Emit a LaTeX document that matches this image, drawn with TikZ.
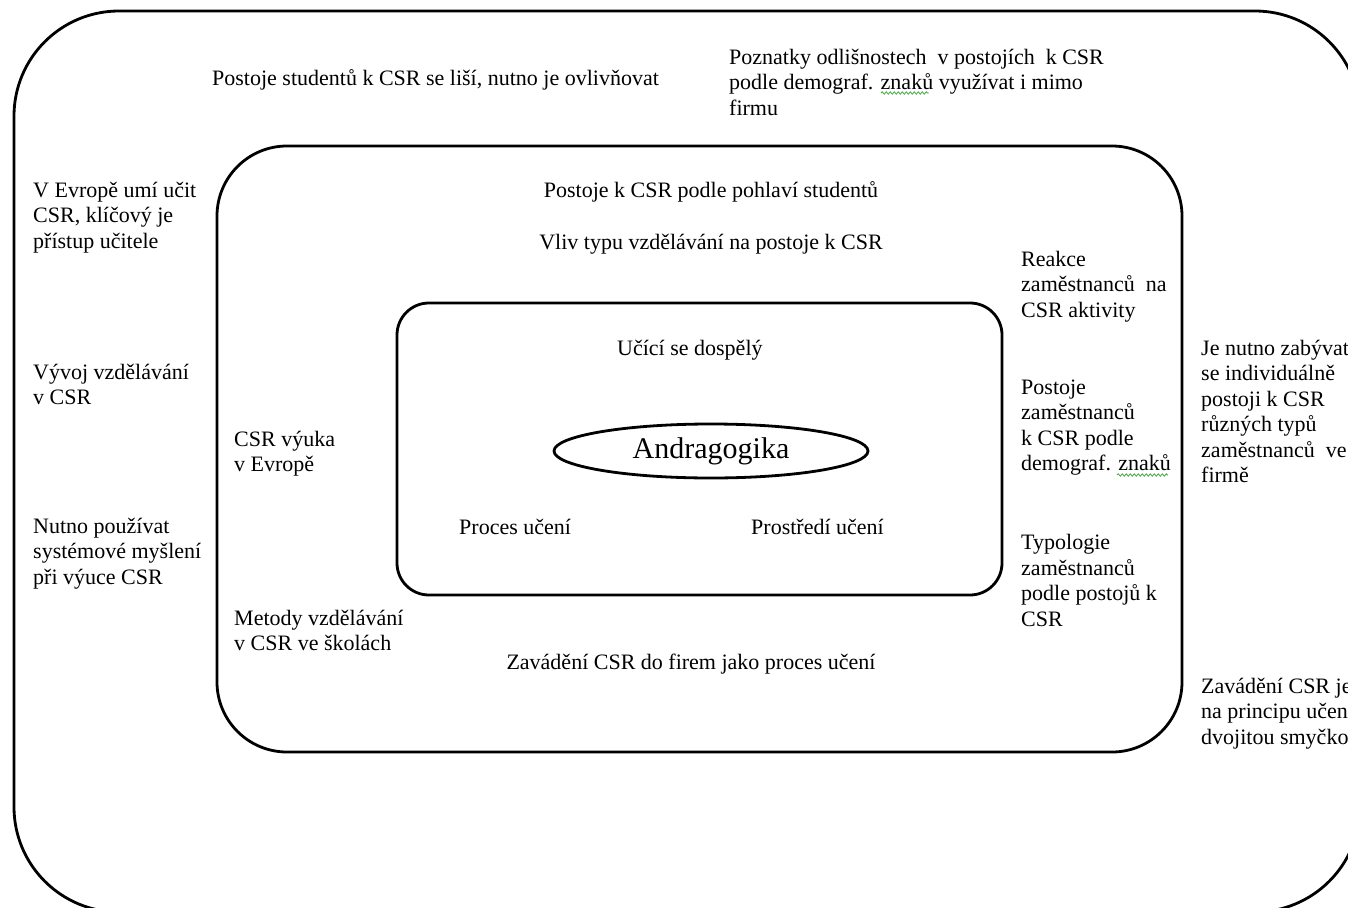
\documentclass[tikz,border=0pt]{standalone}
\usepackage{fontspec}
\setmainfont{Liberation Serif}
\usetikzlibrary{shapes.geometric,decorations.pathmorphing}
\definecolor{squiggreen}{RGB}{70,170,70}
\tikzset{
  frame/.style={draw=black, line width=2.8pt, rectangle, inner sep=0pt},
  % multi-line labels sit on the baseline of their last line
  lbl/.style={inner sep=0pt, anchor=base west, align=left, font=\fontsize{22}{25.5}\selectfont},
  clbl/.style={inner sep=0pt, anchor=base, font=\fontsize{22}{25.5}\selectfont},
  % green wavy underline, as a spell checker marks a word
  squiggle/.style={draw=squiggreen, line width=0.8pt, decorate,
                   decoration={snake, amplitude=1.2pt, segment length=4pt}},
}
\begin{document}
\begin{tikzpicture}[x=1pt,y=-1pt]
\useasboundingbox (0,0) rectangle (1348,907);
\clip (0,0) rectangle (1348,907);

% three nested frames and the central ellipse
\node[frame, rounded corners=105pt, minimum width=1346pt, minimum height=901pt] (outer) at (687,461.5) {};
\node[frame, rounded corners=70pt, minimum width=965pt, minimum height=606pt] (middle) at (699.5,449) {};
\node[frame, rounded corners=32pt, minimum width=605pt, minimum height=292pt] (inner) at (699.5,449) {};
\node[draw=black, line width=2.8pt, ellipse, inner sep=0pt, minimum width=314pt, minimum height=54pt,
      font=\fontsize{30}{34}\selectfont] (core) at (711,451) {Andragogika};

% outer ring
\node[lbl] (o1) at (212,85) {Postoje studentů k CSR se liší, nutno je ovlivňovat};
\node[lbl] (o2) at (729,115) {Poznatky odlišnostech\ \ v postojích\ \ k CSR\\podle demograf. znaků využívat i mimo\\firmu};
\node[lbl] (o3) at (33,248) {V Evropě umí učit\\CSR, klíčový je\\přístup učitele};
\node[lbl] (o4) at (33,404.5) {Vývoj vzdělávání\\v CSR};
\node[lbl] (o5) at (33,584) {Nutno používat\\systémové myšlení\\při výuce CSR};
\node[lbl] (o6) at (1201,482.5) {Je nutno zabývat\\se individuálně\\postoji k CSR\\různých typů\\zaměstnanců\ \ ve\\firmě};
\node[lbl] (o7) at (1201,744) {Zavádění CSR je\\na principu učení\\dvojitou smyčkou};

% middle ring
\node[clbl] (m1) at (711,197) {Postoje k CSR podle pohlaví studentů};
\node[clbl] (m2) at (711,249) {Vliv typu vzdělávání na postoje k CSR};
\node[lbl] (m3) at (1021,317) {Reakce\\zaměstnanců\ \ na\\CSR aktivity};
\node[lbl] (m4) at (1021,470.5) {Postoje\\zaměstnanců\\k CSR podle\\demograf. znaků};
\node[lbl] (m5) at (1021,626) {Typologie\\zaměstnanců\\podle postojů k\\CSR};
\node[lbl] (m6) at (234,471.5) {CSR výuka\\v Evropě};
\node[lbl] (m7) at (234,650.5) {Metody vzdělávání\\v CSR ve školách};
\node[clbl] (m8) at (691,669) {Zavádění CSR do firem jako proces učení};

% inner ring
\node[lbl] (i1) at (617,355) {Učící se dospělý};
\node[lbl] (i2) at (459,534) {Proces učení};
\node[lbl] (i3) at (751,534) {Prostředí učení};

% wavy marks under the word "znaků"
\coordinate (w1a) at (881,93);  \coordinate (w1b) at (929,93);
\coordinate (w2a) at (1117,475); \coordinate (w2b) at (1168,475);
\draw[squiggle] (w1a) -- (w1b);
\draw[squiggle] (w2a) -- (w2b);
\end{tikzpicture}
\end{document}
